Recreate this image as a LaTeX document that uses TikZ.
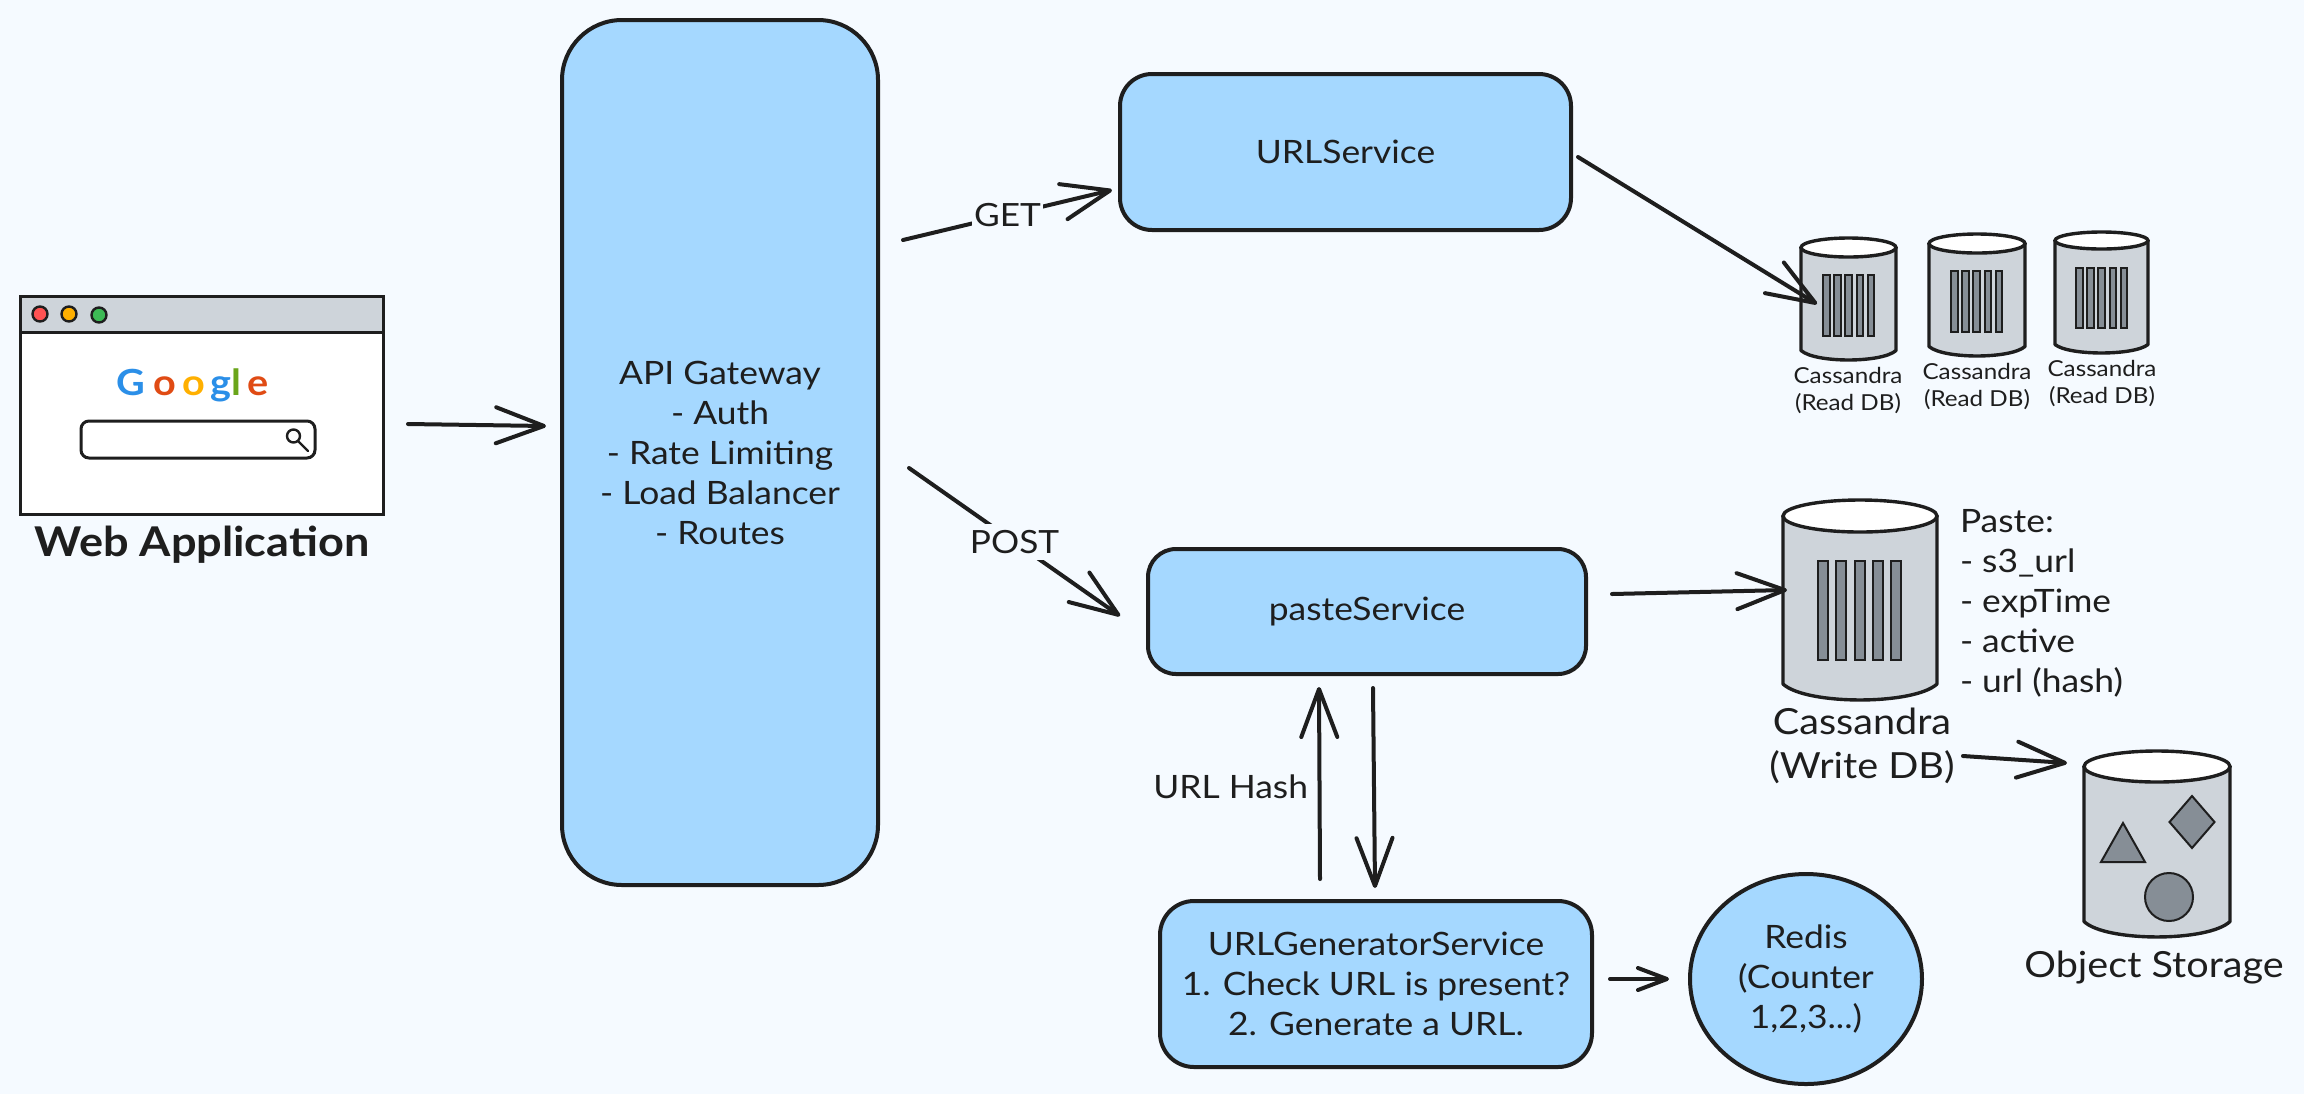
\documentclass[tikz,border=0pt]{standalone}
\usepackage{fontspec}
\setmainfont[FakeStretch=1.1]{Lato}
\usetikzlibrary{arrows.meta,shapes.geometric}
\definecolor{pagebg}{HTML}{F5FAFF}
\definecolor{ink}{HTML}{1E1E1E}
\definecolor{skyfill}{HTML}{A5D8FF}
\definecolor{dbgray}{HTML}{CED4DA}
\definecolor{bargray}{HTML}{868E96}
\definecolor{gblue}{HTML}{2B8FE8}
\definecolor{gred}{HTML}{E04B14}
\definecolor{gamber}{HTML}{FFB000}
\definecolor{ggreen}{HTML}{6AA51A}
\newcommand\fsz[2]{\fontsize{#1}{#2}\selectfont}
\tikzset{
  x=0.5pt,y=-0.5pt,
  svc/.style={draw=ink,fill=skyfill,line width=2pt,inner sep=0pt,outer sep=0pt,align=center,text=ink,font=\fsz{16.1}{20}},
  arr/.style={draw=ink,line width=2pt,line cap=round,line join=round,-{Straight Barb[length=24pt,width=18pt,round]}},
  arrsmall/.style={arr,-{Straight Barb[length=14.5pt,width=11pt,round]}},
  lbl/.style={inner sep=0pt,outer sep=0pt,text=ink,font=\fsz{16.1}{20},align=center},
  lblbig/.style={lbl,font=\fsz{18}{22}},
  lblhead/.style={lbl,font=\fsz{20.5}{24}\bfseries},
  lblsmall/.style={lbl,font=\fsz{11}{13.5}},
  lbledge/.style={lbl,fill=pagebg,font=\fsz{16}{18}},
  glet/.style={inner sep=0pt,anchor=base,font=\fsz{18}{20}\bfseries},
  dbbody/.style={draw=ink,fill=dbgray,line width=1.7pt,line join=round},
  dblid/.style={draw=ink,fill=white,line width=1.7pt},
  dbbar/.style={draw=ink,fill=bargray,line width=1pt},
  dot/.style={draw=ink,line width=1.2pt},
}
% left, right, top, lid bottom, bottom
\newcommand\dbcyl[5]{%
  \pgfmathsetmacro\cx{(#1+#2)/2}%
  \pgfmathsetmacro\cy{(#3+#4)/2}%
  \pgfmathsetmacro\ry{(#4-#3)/2}%
  \pgfmathsetmacro\bm{#5-\ry}%
  \pgfmathsetmacro\ca{#1+0.15*(#2-#1)}%
  \pgfmathsetmacro\cb{#2-0.15*(#2-#1)}%
  \pgfmathsetmacro\cc{\bm+1.33*\ry}%
  \draw[dbbody] (#1,\cy) -- (#1,\bm) .. controls (\ca,\cc) and (\cb,\cc) .. (#2,\bm) -- (#2,\cy) -- cycle;
  \pgfmathsetmacro\rx{(#2-#1)/2}%
  \draw[dblid] (\cx,\cy) ellipse [x radius=\rx,y radius=\ry];
}
% first bar left, bar width, pitch, top, bottom
\newcommand\dbbars[5]{%
  \foreach \i in {0,...,4}{%
    \pgfmathsetmacro\xa{#1+\i*#3}%
    \pgfmathsetmacro\xb{\xa+#2}%
    \draw[dbbar] (\xa,#4) rectangle (\xb,#5);
  }%
}
\begin{document}
\begin{tikzpicture}
\useasboundingbox (0,0) rectangle (2304,1094);
\fill[pagebg] (0,0) rectangle (2304,1094);

% browser window
\draw[draw=ink,fill=white,line width=1.5pt] (20,296) rectangle (383,514);
\draw[draw=ink,fill=dbgray,line width=1.5pt] (20,296) rectangle (383,332);
\fill[dot,fill={rgb,255:red,255;green,82;blue,82}] (40,314) circle [radius=7.5];
\fill[dot,fill={rgb,255:red,255;green,176;blue,0}] (69,314) circle [radius=7.5];
\fill[dot,fill={rgb,255:red,61;green,186;blue,85}] (99,315) circle [radius=7.5];
\node[glet,text=gblue] (g1) at (131,395) {G};
\node[glet,text=gred] (g2) at (165,395) {o};
\node[glet,text=gamber] (g3) at (194,395) {o};
\node[glet,text=gblue] (g4) at (221,395) {g};
\node[glet,text=ggreen] (g5) at (236,395) {l};
\node[glet,text=gred] (g6) at (258,395) {e};
\draw[draw=ink,fill=white,line width=1.5pt,rounded corners=4pt] (81,421) rectangle (315,458);
\draw[draw=ink,line width=1.2pt] (293.5,436) circle [radius=6.5];
\draw[draw=ink,line width=1.2pt,line cap=round] (298,441) -- (308,451);
\node[lblhead,anchor=base] (webapp) at (202,556) {Web Application};

% services
\node[svc,rounded corners=30pt,minimum width=158pt,minimum height=432.5pt] (api) at (720,452.5)
  {API Gateway\\- Auth\\- Rate Limiting\\- Load Balancer\\- Routes};
\node[svc,rounded corners=16pt,minimum width=225.5pt,minimum height=78pt] (urlsvc) at (1345.5,152) {URLService};
\node[svc,rounded corners=14pt,minimum width=219pt,minimum height=62.5pt] (paste) at (1367,611.5) {pasteService};
\node[svc,rounded corners=17pt,minimum width=216pt,minimum height=83pt] (gen) at (1376,984)
  {URLGeneratorService\\1. Check URL is present?\\2. Generate a URL.};
\node[svc,ellipse,minimum width=116pt,minimum height=105pt] (redis) at (1806,979) {Redis\\(Counter\\1,2,3...)};

% read databases
\dbcyl{1801}{1896}{238}{257}{360}
\dbbars{1823}{6.5}{11.2}{275}{336}
\node[lblsmall] (read1) at (1848,390) {Cassandra\\(Read DB)};
\dbcyl{1929}{2025}{234}{253}{356}
\dbbars{1951}{6.5}{11.2}{271}{332}
\node[lblsmall] (read2) at (1977,386) {Cassandra\\(Read DB)};
\dbcyl{2055}{2148}{232}{249}{353}
\dbbars{2076}{6.5}{11.2}{268}{328}
\node[lblsmall] (read3) at (2102,383) {Cassandra\\(Read DB)};

% write database
\dbcyl{1783}{1937}{500}{532}{700}
\dbbars{1818}{10}{18.3}{561}{660}
\node[lblbig] (write) at (1862,746) {Cassandra\\(Write DB)};
\node[lbl,anchor=west,align=left] (fields) at (1960,603) {Paste:\\- s3\_url\\- expTime\\- active\\- url (hash)};

% object storage
\dbcyl{2084}{2230}{751}{782}{937}
\draw[dbbar] (2123,823) -- (2101,862) -- (2145,862) -- cycle;
\draw[dbbar] (2192,796) -- (2214.5,822) -- (2192,848) -- (2169.5,822) -- cycle;
\draw[dbbar] (2169,897) circle [radius=24];
\node[lblbig,anchor=base] (objstore) at (2154,977) {Object Storage};

% connector ends
\coordinate (web-out) at (408,424);
\coordinate (api-in) at (546,426);
\coordinate (api-get) at (903,240);
\coordinate (url-in) at (1112,190);
\coordinate (api-post) at (909,468);
\coordinate (paste-in) at (1120,616);
\coordinate (url-out) at (1578,157);
\coordinate (read1-in) at (1817,304);
\coordinate (paste-out) at (1612,594);
\coordinate (write-in) at (1787,590);
\coordinate (write-out) at (1963,756);
\coordinate (store-in) at (2067,763);
\coordinate (gen-up) at (1320,879);
\coordinate (paste-ret) at (1319,687);
\coordinate (paste-down) at (1373,688);
\coordinate (gen-in) at (1375,888);
\coordinate (gen-out) at (1610,979);
\coordinate (redis-in) at (1669,979);

% connectors
\draw[arr] (web-out) -- (api-in);
\draw[arr] (api-get) -- node[lbledge,pos=0.5,inner xsep=1pt,inner ysep=0pt] (getlbl) {GET} (url-in);
\draw[arr] (api-post) -- node[lbledge,pos=0.5,inner xsep=1pt,inner ysep=3pt] (postlbl) {POST} (paste-in);
\draw[arr] (url-out) -- (read1-in);
\draw[arr] (paste-out) -- (write-in);
\draw[arr] (write-out) -- (store-in);
\draw[arr] (gen-up) -- (paste-ret);
\draw[arr] (paste-down) -- (gen-in);
\draw[arrsmall] (gen-out) -- (redis-in);
\node[lbl,anchor=base east] (hashlbl) at (1308,798) {URL Hash};
\end{tikzpicture}
\end{document}
